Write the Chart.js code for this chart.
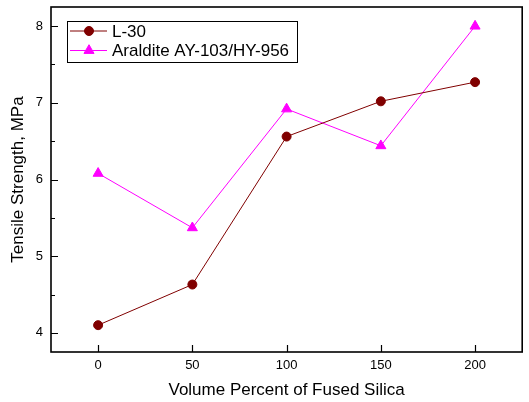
<!DOCTYPE html>
<html>
<head>
<meta charset="utf-8">
<script src="https://cdn.jsdelivr.net/npm/chart.js@4"></script>
<style>
  html, body { margin: 0; padding: 0; background: #fff; }
  #wrap { width: 529px; height: 402px; }
</style>
</head>
<body>
<div id="wrap"><canvas id="tensileChart" width="529" height="402"></canvas></div>
<script>
// volume percent of fused silica
const silica = [0, 50, 100, 150, 200];
const l30 = [4.10, 4.63, 6.56, 7.02, 7.27];
const araldite = [6.08, 5.37, 6.92, 6.44, 8.00];
const xTicks = [0, 50, 100, 150, 200];
const yTicks = [4, 5, 6, 7, 8];
const yMinorTicks = [3.5, 4.5, 5.5, 6.5, 7.5];

const FONT = 'Liberation Sans, Arial, sans-serif';

function toPoints(ys) {
    return silica.map((x, i) => ({ x: x, y: ys[i] }));
}

// frame + inward ticks, like the original plot
const frameTicks = {
    id: 'frameTicks',
    afterDatasetsDraw(chart) {
        const { ctx, chartArea: a, scales: { x, y } } = chart;
        ctx.save();
        ctx.strokeStyle = '#000';
        ctx.lineWidth = 1.2;
        ctx.beginPath();
        xTicks.forEach(v => {
            const px = Math.round(x.getPixelForValue(v)) + 0.5;
            ctx.moveTo(px, a.bottom);
            ctx.lineTo(px, a.bottom - 7);
        });
        yTicks.forEach(v => {
            const py = Math.round(y.getPixelForValue(v)) + 0.5;
            ctx.moveTo(a.left, py);
            ctx.lineTo(a.left + 7, py);
        });
        yMinorTicks.forEach(v => {
            if (v < y.min || v > y.max) return;
            const py = Math.round(y.getPixelForValue(v)) + 0.5;
            ctx.moveTo(a.left, py);
            ctx.lineTo(a.left + 4, py);
        });
        ctx.stroke();
        ctx.lineWidth = 1.6;
        ctx.strokeRect(a.left, a.top, a.right - a.left, a.bottom - a.top);
        ctx.restore();
    }
};

// boxed legend with line + marker samples
const boxLegend = {
    id: 'boxLegend',
    afterDraw(chart) {
        const { ctx } = chart;
        const bx = 67, by = 21, bw = 230, bh = 41;
        ctx.save();
        ctx.fillStyle = '#fff';
        ctx.fillRect(bx, by, bw, bh);
        ctx.strokeStyle = '#000';
        ctx.lineWidth = 1;
        ctx.strokeRect(bx + 0.5, by + 0.5, bw, bh);
        chart.data.datasets.forEach((ds, i) => {
            const ry = by + 10 + i * 19.5;
            ctx.strokeStyle = ds.borderColor;
            ctx.lineWidth = 1;
            ctx.beginPath();
            ctx.moveTo(bx + 3, ry);
            ctx.lineTo(bx + 40, ry);
            ctx.stroke();
            ctx.fillStyle = ds.backgroundColor;
            ctx.strokeStyle = ds.borderColor;
            Chart.helpers.drawPoint(ctx, {
                pointStyle: ds.pointStyle,
                radius: ds.pointRadius,
                rotation: 0,
                borderWidth: 1
            }, bx + 22, ry);
            ctx.fillStyle = '#000';
            ctx.font = '17px ' + FONT;
            ctx.textBaseline = 'middle';
            ctx.textAlign = 'left';
            ctx.fillText(ds.label, bx + 45, ry + 1);
        });
        ctx.restore();
    }
};

new Chart(document.getElementById('tensileChart'), {
    type: 'scatter',
    data: {
        datasets: [
            {
                label: 'L-30',
                data: toPoints(l30),
                showLine: true,
                borderColor: '#800000',
                backgroundColor: '#800000',
                borderWidth: 1,
                pointStyle: 'circle',
                pointRadius: 4.5,
                pointBorderWidth: 1
            },
            {
                label: 'Araldite AY-103/HY-956',
                data: toPoints(araldite),
                showLine: true,
                borderColor: '#ff00ff',
                backgroundColor: '#ff00ff',
                borderWidth: 1,
                pointStyle: 'triangle',
                pointRadius: 5.8,
                pointBorderWidth: 1
            }
        ]
    },
    options: {
        responsive: false,
        animation: false,
        clip: false,
        layout: { padding: { top: 7, right: 0, left: 0, bottom: 0 } },
        plugins: {
            legend: { display: false },
            tooltip: { enabled: false }
        },
        scales: {
            x: {
                type: 'linear',
                min: -25,
                max: 225,
                afterFit(scale) {
                    scale.height = 50;
                    scale.paddingLeft = 0;
                    scale.paddingRight = 0;
                },
                afterBuildTicks(scale) { scale.ticks = xTicks.map(v => ({ value: v })); },
                grid: { display: false, drawTicks: false },
                border: { display: false },
                ticks: { color: '#000', padding: 6, font: { family: FONT, size: 13 } },
                title: {
                    display: true,
                    text: 'Volume Percent of Fused Silica',
                    color: '#000',
                    font: { family: FONT, size: 17 },
                    padding: { top: 0, bottom: 1 }
                }
            },
            y: {
                type: 'linear',
                min: 3.75,
                max: 8.25,
                afterFit(scale) {
                    scale.width = 51;
                    scale.paddingTop = 0;
                    scale.paddingBottom = 0;
                },
                afterBuildTicks(scale) { scale.ticks = yTicks.map(v => ({ value: v })); },
                grid: { display: false, drawTicks: false },
                border: { display: false },
                ticks: { color: '#000', padding: 8, font: { family: FONT, size: 13 } },
                title: {
                    display: true,
                    text: 'Tensile Strength, MPa',
                    color: '#000',
                    font: { family: FONT, size: 17 },
                    padding: { top: 8, bottom: 0 }
                }
            }
        }
    },
    plugins: [frameTicks, boxLegend]
});
</script>
</body>
</html>
